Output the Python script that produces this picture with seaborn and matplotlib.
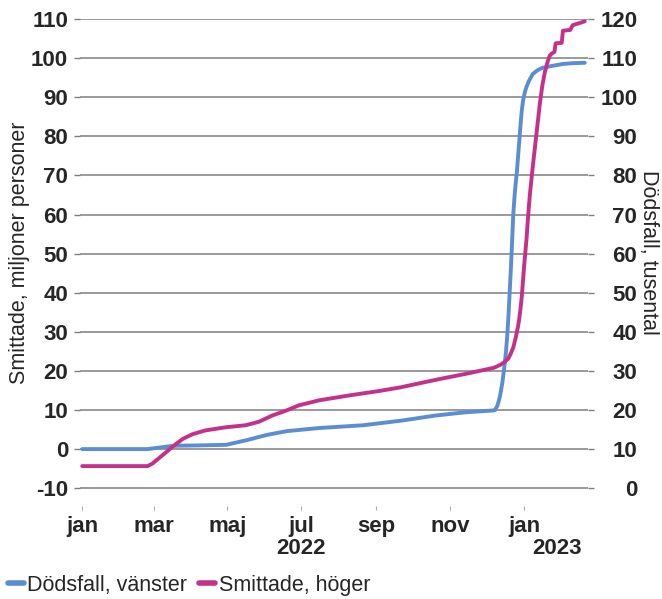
import pandas as pd
import matplotlib
matplotlib.use("Agg")
import matplotlib.pyplot as plt
import matplotlib.transforms as mtransforms
from matplotlib.lines import Line2D
import seaborn as sns

# Dödsfall, vänster axel
death_dates = [
    "2022-01-01", "2022-02-24", "2022-03-06", "2022-03-17", "2022-04-08",
    "2022-04-30", "2022-05-17", "2022-06-02", "2022-06-19", "2022-07-16",
    "2022-08-21", "2022-09-22", "2022-10-20", "2022-11-13", "2022-12-07",
    "2022-12-08", "2022-12-10", "2022-12-12", "2022-12-14", "2022-12-15",
    "2022-12-16", "2022-12-17", "2022-12-18", "2022-12-19", "2022-12-20",
    "2022-12-21", "2022-12-22", "2022-12-23", "2022-12-24", "2022-12-25",
    "2022-12-26", "2022-12-27", "2022-12-28", "2022-12-29", "2022-12-30",
    "2022-12-31", "2023-01-01", "2023-01-02", "2023-01-03", "2023-01-05",
    "2023-01-08", "2023-01-12", "2023-01-16", "2023-01-24", "2023-02-02",
    "2023-02-10", "2023-02-20",
]
death_values = [
    0.0, 0.0, 0.4, 0.85, 0.95,
    1.1, 2.3, 3.6, 4.6, 5.4,
    6.1, 7.3, 8.6, 9.4, 9.9,
    10.0, 11.2, 13.5, 17.0, 19.5,
    22.0, 25.0, 29.0, 34.0, 40.0,
    46.0, 53.0, 60.0, 64.5, 68.0,
    71.0, 75.0, 79.0, 83.0, 86.5,
    89.0, 90.5, 91.8, 92.7, 94.2,
    95.9, 96.9, 97.5, 98.0, 98.5,
    98.7, 98.8,
]

# Smittade, höger axel
infected_dates = [
    "2022-01-01", "2022-02-24", "2022-02-28", "2022-03-09", "2022-03-17",
    "2022-03-25", "2022-04-02", "2022-04-13", "2022-04-30", "2022-05-16",
    "2022-05-27", "2022-06-07", "2022-06-18", "2022-06-29", "2022-07-16",
    "2022-08-11", "2022-09-04", "2022-09-21", "2022-10-09", "2022-10-26",
    "2022-11-13", "2022-12-07", "2022-12-12", "2022-12-16", "2022-12-19",
    "2022-12-21", "2022-12-23", "2022-12-25", "2022-12-27", "2022-12-28",
    "2022-12-29", "2022-12-30", "2022-12-31", "2023-01-01", "2023-01-02",
    "2023-01-03", "2023-01-04", "2023-01-05", "2023-01-06", "2023-01-08",
    "2023-01-10", "2023-01-12", "2023-01-14", "2023-01-16", "2023-01-18",
    "2023-01-20", "2023-01-22", "2023-01-24", "2023-01-26", "2023-01-27",
    "2023-02-01", "2023-02-02", "2023-02-08", "2023-02-10", "2023-02-14",
    "2023-02-20",
]
infected_values = [
    5.65, 5.65, 6.3, 8.6, 10.7,
    12.6, 13.8, 14.8, 15.6, 16.1,
    17.0, 18.6, 19.8, 21.2, 22.5,
    23.8, 24.9, 25.8, 27.0, 28.1,
    29.2, 30.8, 31.5, 32.3, 33.2,
    34.5, 36.0, 38.5, 41.5, 43.5,
    46.0, 49.0, 53.0, 57.0, 60.5,
    64.0, 68.5, 72.5, 76.0, 82.0,
    87.5, 93.0, 98.5, 103.0, 106.3,
    108.7, 110.6, 111.2, 111.6, 113.8,
    113.9, 117.0, 117.2, 118.4, 118.8,
    119.4,
]

month_tick_dates = ["2022-01-01", "2022-03-01", "2022-05-01", "2022-07-01",
                    "2022-09-01", "2022-11-01", "2023-01-01"]
month_tick_labels = ["jan", "mar", "maj", "jul", "sep", "nov", "jan"]
year_labels = ["2022", "2023"]
year_label_dates = ["2022-07-01", "2023-01-28"]
left_ticks = list(range(-10, 111, 10))
right_ticks = list(range(0, 121, 10))

series_names = ["Dödsfall, vänster", "Smittade, höger"]
left_label = "Smittade, miljoner personer"
right_label = "Dödsfall, tusental"

blue = "#5B8DD3"
pink = "#C4318A"
grid_grey = "#7F7F7F"

deaths = pd.DataFrame({"datum": pd.to_datetime(death_dates), "varde": death_values})
infected = pd.DataFrame({"datum": pd.to_datetime(infected_dates), "varde": infected_values})

sns.set_theme(style="white")
plt.rcParams["font.family"] = ["Liberation Sans", "DejaVu Sans"]

fig = plt.figure(figsize=(6.62, 5.99), dpi=100)
ax = fig.add_axes([80 / 662, 1 - 506 / 599, 508 / 662, 487 / 599])
ax2 = ax.twinx()

sns.lineplot(data=deaths, x="datum", y="varde", ax=ax, color=blue,
             linewidth=2.8, legend=False)
sns.lineplot(data=infected, x="datum", y="varde", ax=ax2, color=pink,
             linewidth=2.8, legend=False)

start = pd.Timestamp("2022-01-01")
ax.set_xlim(start - pd.Timedelta(days=1.8), start + pd.Timedelta(days=417.7))
ax.set_ylim(-14.55, 110)
ax2.set_ylim(-4.55, 120)

tick_font = dict(fontsize=16, fontweight="bold")
ax.set_yticks(left_ticks)
ax.set_yticklabels([str(v) for v in left_ticks], **tick_font)
ax2.set_yticks(right_ticks)
ax2.set_yticklabels([str(v) for v in right_ticks], **tick_font)
for lbl in ax2.get_yticklabels():
    lbl.set_horizontalalignment("right")

ax.set_xticks(pd.to_datetime(month_tick_dates))
ax.set_xticklabels(month_tick_labels, **tick_font)

ax.tick_params(axis="y", left=True, length=4.5, width=1, color=grid_grey,
               direction="out", pad=4)
ax2.tick_params(axis="y", right=True, length=4.5, width=1, color=grid_grey,
                direction="out", pad=31)
ax.tick_params(axis="x", bottom=True, length=3, width=0.8, color="#AAAAAA",
               direction="out", pad=4)

for a in (ax, ax2):
    for s in a.spines.values():
        s.set_visible(False)
    a.set_xlabel("")

ax.yaxis.grid(True, color=grid_grey, linewidth=1.1)
ax.xaxis.grid(False)
ax2.grid(False)
ax.set_axisbelow(True)

ax.set_ylabel(left_label, fontsize=15.5)
ax.yaxis.set_label_coords(-0.098, 0.52)
ax2.set_ylabel(right_label, fontsize=15.5, rotation=270, va="center")
ax2.yaxis.set_label_coords(1.12, 0.52)

year_trans = mtransforms.blended_transform_factory(ax.transData, ax.transAxes)
for lbl, d in zip(year_labels, year_label_dates):
    ax.text(pd.Timestamp(d), -0.088, lbl, transform=year_trans, ha="center",
            va="center", **tick_font)

handles = [Line2D([], [], color=blue, linewidth=4),
           Line2D([], [], color=pink, linewidth=4)]
fig.legend(handles, series_names, loc="center left",
           bbox_to_anchor=(8 / 662, 1 - 585 / 599), ncol=2, frameon=False,
           fontsize=15.5, handlelength=0.75, handletextpad=0.15,
           columnspacing=0.55, borderpad=0, borderaxespad=0)

fig.savefig("out.png", dpi=100)
